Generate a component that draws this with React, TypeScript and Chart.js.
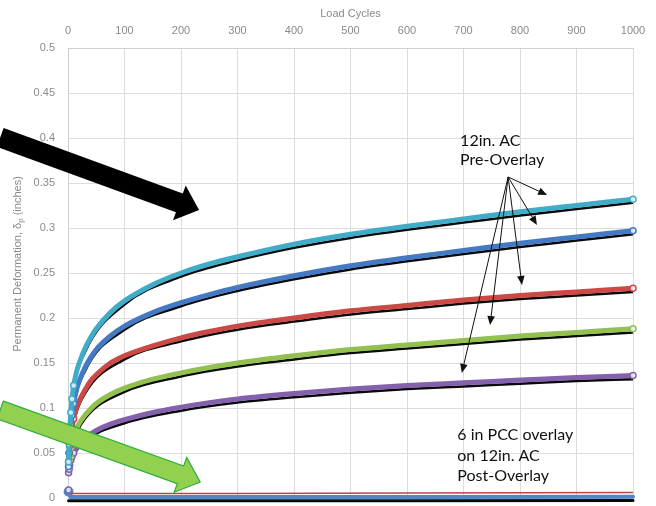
import React, { useEffect, useRef } from "react";
import { Chart, registerables } from "chart.js";
Chart.register(...registerables);

// Load cycles for measured series
const cycles = [1, 2, 3, 5, 7, 10, 15, 20, 30, 40, 50, 75, 100, 150, 200, 250, 300, 400, 500, 600, 700, 800, 900, 1000];
// 12in. AC pre-overlay measured permanent deformation (inches)
const cyanPre = [0.04, 0.06, 0.075, 0.095, 0.11, 0.125, 0.14, 0.15, 0.166, 0.178, 0.188, 0.206, 0.219, 0.237, 0.25, 0.26, 0.268, 0.282, 0.293, 0.302, 0.31, 0.318, 0.325, 0.332];
const bluePre = [0.035, 0.05, 0.062, 0.08, 0.092, 0.105, 0.12, 0.13, 0.145, 0.156, 0.165, 0.18, 0.191, 0.206, 0.217, 0.226, 0.234, 0.247, 0.258, 0.267, 0.275, 0.283, 0.29, 0.297];
const redPre = [0.04, 0.05, 0.058, 0.07, 0.078, 0.088, 0.1, 0.108, 0.12, 0.13, 0.137, 0.15, 0.158, 0.169, 0.178, 0.185, 0.191, 0.2, 0.208, 0.214, 0.22, 0.225, 0.229, 0.233];
const greenPre = [0.035, 0.042, 0.048, 0.056, 0.062, 0.068, 0.077, 0.083, 0.092, 0.099, 0.105, 0.115, 0.122, 0.132, 0.139, 0.145, 0.15, 0.158, 0.165, 0.17, 0.175, 0.18, 0.184, 0.188];
const purplePre = [0.028, 0.032, 0.036, 0.042, 0.046, 0.05, 0.056, 0.06, 0.066, 0.071, 0.075, 0.082, 0.087, 0.095, 0.101, 0.106, 0.11, 0.116, 0.121, 0.125, 0.128, 0.131, 0.134, 0.136];

// Model fit curves (black)
const fitCycles = [1, 3, 10, 30, 100, 200, 300, 400, 500, 600, 700, 800, 900, 1000];
const cyanFit = [0.036, 0.071, 0.121, 0.162, 0.215, 0.246, 0.264, 0.278, 0.289, 0.298, 0.306, 0.314, 0.321, 0.328];
const blueFit = [0.031, 0.058, 0.101, 0.141, 0.187, 0.213, 0.23, 0.243, 0.254, 0.263, 0.271, 0.279, 0.286, 0.293];
const redFit = [0.036, 0.054, 0.084, 0.116, 0.154, 0.174, 0.187, 0.196, 0.204, 0.21, 0.216, 0.221, 0.225, 0.229];
const greenFit = [0.031, 0.044, 0.064, 0.088, 0.118, 0.135, 0.146, 0.154, 0.161, 0.166, 0.171, 0.176, 0.18, 0.184];
const purpleFit = [0.025, 0.033, 0.047, 0.063, 0.083, 0.097, 0.106, 0.112, 0.117, 0.121, 0.124, 0.127, 0.13, 0.132];

// 6 in PCC overlay on 12in. AC post-overlay
const postCycles = [1, 5, 20, 100, 300, 600, 1000];
const postRed = [0.009, 0.005, 0.005, 0.005, 0.005, 0.0055, 0.006];
const postBlue = [0.007, 0.001, 0.001, 0.001, 0.001, 0.0012, 0.0015];
const postFit = [-0.003, -0.003, -0.003, -0.003, -0.003, -0.003, -0.0028];

// Axis ticks
const xTicks = [0, 100, 200, 300, 400, 500, 600, 700, 800, 900, 1000];
const yTicks = [0, 0.05, 0.1, 0.15, 0.2, 0.25, 0.3, 0.35, 0.4, 0.45, 0.5];

// Annotation anchors (data units: cycles, inches)
const blackArrow = { from: [-120, 0.4006], to: [232, 0.32] };
const greenArrow = { from: [-120, 0.0978], to: [234, 0.0178] };
const thinOrigin = [779, 0.3567];
const thinTips = [[848, 0.3367], [830, 0.3033], [803.5, 0.2367], [747, 0.1922], [697, 0.1389]];
const preText = ["12in. AC", "Pre-Overlay"];
const preTextPos = [[694, 0.391], [694, 0.37]];
const postText = ["6 in PCC overlay", "on 12in. AC", "Post-Overlay"];
const postTextPos = [[689, 0.0644], [689, 0.0411], [689, 0.0189]];

const pts = (xs: number[], ys: number[]) => xs.map((x, i) => ({ x, y: ys[i] }));

function drawBlockArrow(ctx: CanvasRenderingContext2D, x0: number, y0: number, x1: number, y1: number, sw: number, hw: number, hl: number, fill: string, stroke?: string) {
  const dx = x1 - x0, dy = y1 - y0;
  const len = Math.hypot(dx, dy);
  const ux = dx / len, uy = dy / len;
  const px = -uy, py = ux;
  const bx = x1 - ux * hl, by = y1 - uy * hl;
  ctx.beginPath();
  ctx.moveTo(x0 + px * sw, y0 + py * sw);
  ctx.lineTo(bx + px * sw, by + py * sw);
  ctx.lineTo(bx + px * hw, by + py * hw);
  ctx.lineTo(x1, y1);
  ctx.lineTo(bx - px * hw, by - py * hw);
  ctx.lineTo(bx - px * sw, by - py * sw);
  ctx.lineTo(x0 - px * sw, y0 - py * sw);
  ctx.closePath();
  ctx.fillStyle = fill;
  ctx.fill();
  if (stroke) {
    ctx.strokeStyle = stroke;
    ctx.lineWidth = 1.2;
    ctx.stroke();
  }
}

function drawThinArrow(ctx: CanvasRenderingContext2D, x0: number, y0: number, x1: number, y1: number) {
  const dx = x1 - x0, dy = y1 - y0;
  const len = Math.hypot(dx, dy);
  const ux = dx / len, uy = dy / len;
  const px = -uy, py = ux;
  const hl = 9, hw = 3.8;
  ctx.beginPath();
  ctx.moveTo(x0, y0);
  ctx.lineTo(x1 - ux * hl * 0.8, y1 - uy * hl * 0.8);
  ctx.strokeStyle = "#111";
  ctx.lineWidth = 1;
  ctx.stroke();
  ctx.beginPath();
  ctx.moveTo(x1, y1);
  ctx.lineTo(x1 - ux * hl + px * hw, y1 - uy * hl + py * hw);
  ctx.lineTo(x1 - ux * hl - px * hw, y1 - uy * hl - py * hw);
  ctx.closePath();
  ctx.fillStyle = "#111";
  ctx.fill();
}

const annotPlugin = {
  id: "annot",
  afterDatasetsDraw(chart: any) {
    const ctx: CanvasRenderingContext2D = chart.ctx;
    const xs = chart.scales.x, ys = chart.scales.y;
    const X = (v: number) => xs.getPixelForValue(v);
    const Y = (v: number) => ys.getPixelForValue(v);
    ctx.save();
    drawBlockArrow(ctx, X(blackArrow.from[0]), Y(blackArrow.from[1]), X(blackArrow.to[0]), Y(blackArrow.to[1]), 10, 18.5, 21, "#000");
    drawBlockArrow(ctx, X(greenArrow.from[0]), Y(greenArrow.from[1]), X(greenArrow.to[0]), Y(greenArrow.to[1]), 9.4, 18.5, 21, "#92d050", "#2fae3c");
    thinTips.forEach((t) => drawThinArrow(ctx, X(thinOrigin[0]), Y(thinOrigin[1]), X(t[0]), Y(t[1])));
    ctx.fillStyle = "#111";
    ctx.font = "16px Lato";
    ctx.textAlign = "left";
    ctx.textBaseline = "alphabetic";
    preText.forEach((s, i) => ctx.fillText(s, X(preTextPos[i][0]), Y(preTextPos[i][1])));
    postText.forEach((s, i) => ctx.fillText(s, X(postTextPos[i][0]), Y(postTextPos[i][1])));

    // axis titles
    ctx.fillStyle = "#8a8a8a";
    ctx.font = "11px 'Liberation Sans'";
    ctx.textAlign = "center";
    ctx.textBaseline = "middle";
    ctx.fillText("Load Cycles", (chart.chartArea.left + chart.chartArea.right) / 2, 14);

    ctx.translate(18, 264);
    ctx.rotate(-Math.PI / 2);
    const a = "Permanent Deformation, \u03b4";
    const sub = "p";
    const b = " (inches)";
    ctx.font = "11px 'Liberation Sans'";
    const wa = ctx.measureText(a).width;
    const wb = ctx.measureText(b).width;
    ctx.font = "8px 'Liberation Sans'";
    const ws = ctx.measureText(sub).width;
    let sx = -(wa + ws + wb) / 2;
    ctx.textAlign = "left";
    ctx.font = "11px 'Liberation Sans'";
    ctx.fillText(a, sx, 0);
    sx += wa;
    ctx.font = "8px 'Liberation Sans'";
    ctx.fillText(sub, sx, 3);
    sx += ws;
    ctx.font = "11px 'Liberation Sans'";
    ctx.fillText(b, sx, 0);
    ctx.restore();
  },
};

export default function App() {
  const ref = useRef<HTMLCanvasElement | null>(null);
  useEffect(() => {
    if (!ref.current) return;
    const lastIdx = cycles.length - 1;
    const mk = (label: string, ys: number[], color: string) => ({
      label,
      data: pts(cycles, ys),
      borderColor: color,
      borderWidth: 5,
      cubicInterpolationMode: "monotone" as const,
      pointRadius: (c: any) => (c.dataIndex <= 5 || c.dataIndex === lastIdx ? 3 : 0),
      pointBackgroundColor: "rgba(235,245,255,0.85)",
      pointBorderColor: color,
      pointBorderWidth: 1.5,
      order: 2,
      clip: 8,
    });
    const fit = (label: string, ys: number[]) => ({
      label,
      data: pts(fitCycles, ys),
      borderColor: "#0a0a0a",
      borderWidth: 2.5,
      cubicInterpolationMode: "monotone" as const,
      pointRadius: 0,
      order: 5,
      clip: 8,
    });
    const chart = new Chart(ref.current, {
      type: "line",
      data: {
        datasets: [
          fit("cyan fit", cyanFit),
          fit("blue fit", blueFit),
          fit("red fit", redFit),
          fit("green fit", greenFit),
          fit("purple fit", purpleFit),
          mk("Cyan", cyanPre, "#41acc8"),
          mk("Blue", bluePre, "#4479c4"),
          mk("Red", redPre, "#cc4a45"),
          mk("Green", greenPre, "#93c150"),
          mk("Purple", purplePre, "#8461ad"),
          {
            label: "post fit",
            data: pts(postCycles, postFit),
            borderColor: "#0a0a0a",
            borderWidth: 3,
            pointRadius: 0,
            borderCapStyle: "round",
            order: 6,
            clip: false,
          },
          {
            label: "post blue",
            data: pts(postCycles, postBlue),
            borderColor: "#4f86c8",
            borderWidth: 4,
            pointRadius: (c: any) => (c.dataIndex === 0 ? 3 : 0),
            pointBackgroundColor: "rgba(235,245,255,0.85)",
            pointBorderColor: "#4f86c8",
            borderCapStyle: "round",
            order: 4,
            clip: false,
          },
          {
            label: "post red",
            data: pts(postCycles, postRed),
            borderColor: "#b8473f",
            borderWidth: 1.5,
            pointRadius: (c: any) => (c.dataIndex === 0 ? 3 : 0),
            pointBackgroundColor: "rgba(235,245,255,0.85)",
            pointBorderColor: "#8464b0",
            order: 3,
            clip: false,
          },
        ],
      } as any,
      options: {
        animation: false,
        responsive: false,
        devicePixelRatio: 1,
        layout: { autoPadding: false, padding: { left: 0, top: 0, right: 23, bottom: 8 } },
        plugins: { legend: { display: false }, tooltip: { enabled: false }, title: { display: false } },
        scales: {
          x: {
            type: "linear",
            position: "top",
            min: 0,
            max: 1000,
            afterFit: (s: any) => { s.height = 48; s.paddingLeft = 0; s.paddingRight = 0; },
            afterBuildTicks: (s: any) => { s.ticks = xTicks.map((v) => ({ value: v })); },
            ticks: {
              color: "#8a8a8a",
              font: { family: "'Liberation Sans'", size: 11 },
              padding: 10,
              maxRotation: 0,
              callback: (v: any) => String(v),
            },
            grid: { color: "#dcdcdc", drawTicks: false, lineWidth: 1 },
            border: { color: "#d0d0d0" },
          },
          y: {
            type: "linear",
            min: 0,
            max: 0.5,
            afterFit: (s: any) => { s.width = 68; s.paddingTop = 0; s.paddingBottom = 0; },
            afterBuildTicks: (s: any) => { s.ticks = yTicks.map((v) => ({ value: v })); },
            ticks: {
              color: "#8a8a8a",
              font: { family: "'Liberation Sans'", size: 11 },
              padding: 13,
              callback: (v: any) => String(Number(Number(v).toFixed(2))),
            },
            grid: { color: "#dcdcdc", drawTicks: false, lineWidth: 1 },
            border: { color: "#d0d0d0" },
          },
        },
      } as any,
      plugins: [annotPlugin],
    });
    return () => chart.destroy();
  }, []);
  return (
    <div style={{ position: "fixed", left: 0, top: 0, width: 656, height: 506, background: "#fff" }}>
      <canvas ref={ref} width={656} height={506} />
    </div>
  );
}
